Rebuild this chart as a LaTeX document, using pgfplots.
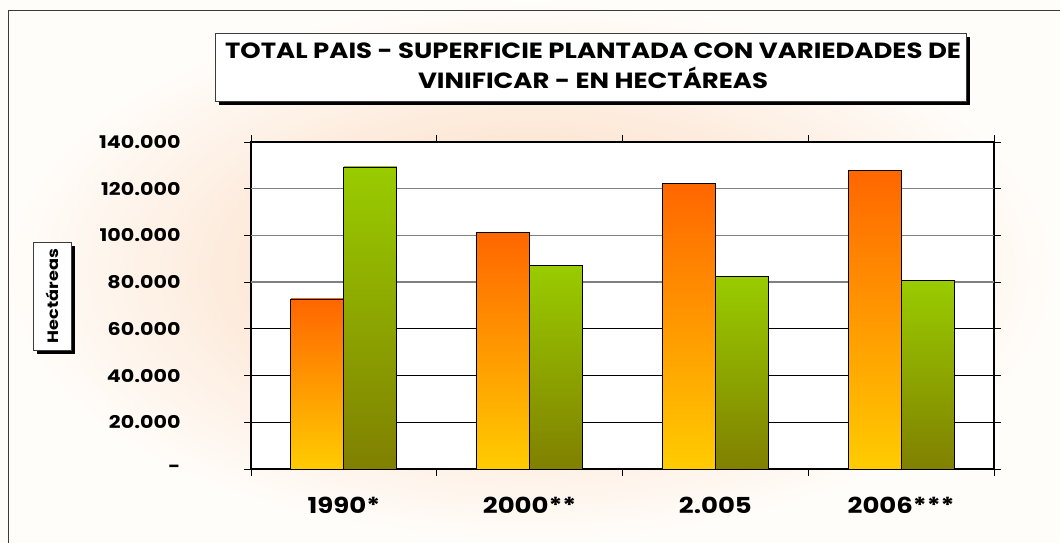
\documentclass[border=0pt]{standalone}
\usepackage{fontspec}
\setmainfont[FakeStretch=1.18]{Poppins}
\usepackage{pgfplots}
\pgfplotsset{compat=1.18}
\definecolor{peach}{RGB}{252,228,208}
\definecolor{nearwhite}{RGB}{255,253,250}
\definecolor{org1}{RGB}{255,102,0}
\definecolor{org2}{RGB}{255,204,0}
\definecolor{grn1}{RGB}{153,204,0}
\definecolor{grn2}{RGB}{128,128,0}
\definecolor{framec}{RGB}{60,60,60}
\pgfdeclareradialshading{bgshade}{\pgfpoint{0bp}{0bp}}{color(0bp)=(peach); color(10bp)=(peach); color(25bp)=(nearwhite); color(50bp)=(nearwhite)}
\pgfplotsset{
  orangebar/.style={ybar, bar width=53pt, bar shift=-26.5pt, draw=black, line width=0.8pt, top color=org1, bottom color=org2},
  greenbar/.style={ybar, bar width=53pt, bar shift=26.5pt, draw=black, line width=0.8pt, top color=grn1, bottom color=grn2},
}
\begin{document}
\begin{tikzpicture}[x=1pt,y=1pt]
\useasboundingbox (0,0) rectangle (1060,542);
\shade[shading=bgshade] (0,0) rectangle (1060,542);
\draw[framec, line width=1.5pt] (8.5,-5) -- (8.5,531.5) -- (1065,531.5);
% title box
\fill[black] (219,437) rectangle (970,505);
\draw[framec, fill=white, line width=0.8pt] (215,441) rectangle (966,509);
\node[font=\bfseries\fontsize{22}{30}\selectfont, align=center] at (593,476) {TOTAL PAIS - SUPERFICIE PLANTADA CON VARIEDADES DE\\VINIFICAR - EN HECTÁREAS};
% y label box
\fill[black] (37,188) rectangle (75,296);
\draw[framec, fill=white, line width=0.8pt] (33,192) rectangle (71,300);
\node[font=\bfseries\fontsize{15}{15}\selectfont, rotate=90] at (52,246) {Hectáreas};
\begin{axis}[
  at={(251pt,73pt)}, anchor=south west, scale only axis,
  width=743pt, height=327pt,
  xmin=0.5, xmax=4.5, ymin=0, ymax=140000,
  axis background/.style={fill=white},
  xtick={1,2,3,4},
  xticklabels={1990*,2000**,2.005,2006***},
  major x tick style={draw=none},
  minor xtick={0.5,1.5,2.5,3.5,4.5},
  ytick={0,20000,40000,60000,80000,100000,120000,140000},
  yticklabels={-,20.000,40.000,60.000,80.000,100.000,120.000,140.000},
  scaled y ticks=false,
  tick align=outside,
  major tick length=7pt, minor tick length=7pt,
  tick style={black, line width=0.8pt},
  axis line style={black, line width=1.6pt},
  yticklabel style={font=\bfseries\fontsize{17.5}{17.5}\selectfont, anchor=east, xshift=-60pt},
  xticklabel style={font=\bfseries\fontsize{22}{22}\selectfont, yshift=-18pt},
  clip=false,
]
\draw[black, line width=0.9pt] (axis cs:0.5,20000) -- (axis cs:4.5,20000);
\draw[black, line width=0.9pt] (axis cs:0.5,40000) -- (axis cs:4.5,40000);
\draw[black, line width=0.9pt] (axis cs:0.5,60000) -- (axis cs:4.5,60000);
\draw[gray, line width=1.3pt] (axis cs:0.5,80000) -- (axis cs:4.5,80000);
\draw[gray, line width=1.3pt] (axis cs:0.5,100000) -- (axis cs:4.5,100000);
\draw[gray, line width=1.3pt] (axis cs:0.5,120000) -- (axis cs:4.5,120000);
\addplot[orangebar] coordinates {(1,72800)};
\addplot[orangebar] coordinates {(2,101300)};
\addplot[orangebar] coordinates {(3,122400)};
\addplot[orangebar] coordinates {(4,128000)};
\addplot[greenbar] coordinates {(1,129300)};
\addplot[greenbar] coordinates {(2,87300)};
\addplot[greenbar] coordinates {(3,82600)};
\addplot[greenbar] coordinates {(4,80900)};
\end{axis}
\end{tikzpicture}
\end{document}
